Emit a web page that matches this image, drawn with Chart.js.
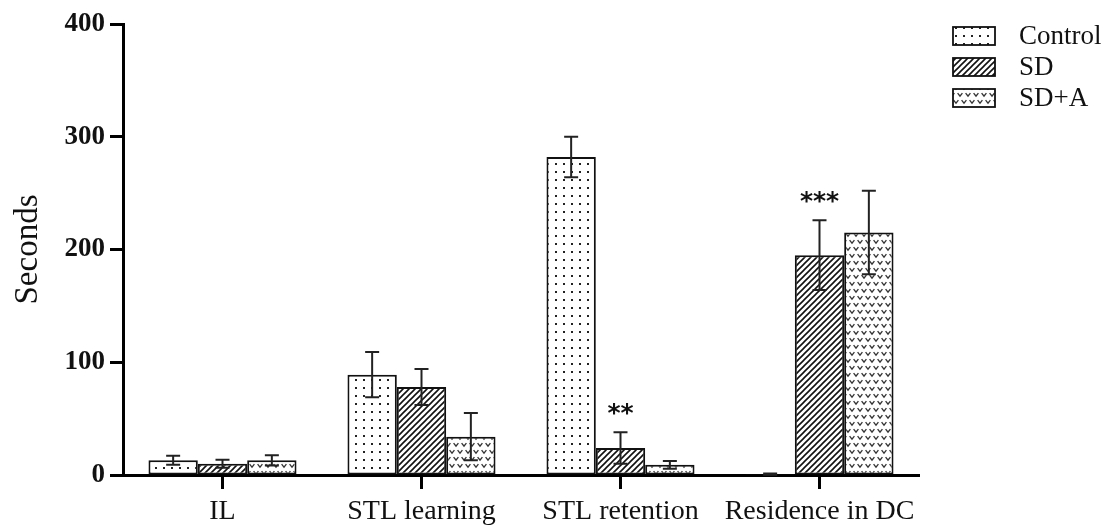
<!DOCTYPE html>
<html>
<head>
<meta charset="utf-8">
<script src="https://cdn.jsdelivr.net/npm/chart.js@4.4.1/dist/chart.umd.min.js"></script>
<style>
  html, body { margin: 0; padding: 0; background: #fff; }
  canvas { display: block; }
</style>
</head>
<body>
<canvas id="chart" width="1106" height="525"></canvas>
<script>
// Behavioural test times per group (seconds, mean and SEM)
const categories = ['IL', 'STL learning', 'STL retention', 'Residence in DC'];
const seriesNames = ['Control', 'SD', 'SD+A'];
const controlMean = [13, 89, 282, 0.8];
const controlErr  = [4, 20, 18, 0.5];
const sdMean      = [10, 78, 24, 195];
const sdErr       = [3.5, 16, 14, 31];
const sdaMean     = [13, 34, 9, 215];
const sdaErr      = [4.5, 21, 3.5, 37];
const sdSignificance = ['', '', '**', '***'];
const yTicks = [0, 100, 200, 300, 400];

const canvas = document.getElementById('chart');
const ctx = canvas.getContext('2d');

function makeTile(w, h, paint) {
  const t = document.createElement('canvas');
  t.width = w; t.height = h;
  const g = t.getContext('2d');
  g.fillStyle = '#fff';
  g.fillRect(0, 0, w, h);
  paint(g);
  return ctx.createPattern(t, 'repeat');
}

// Control: fine dot grid
const dotFill = makeTile(8, 8, g => {
  g.fillStyle = '#222';
  g.fillRect(3, 3, 2, 2);
});

// SD: forward diagonal hatching
const hatchFill = makeTile(6, 6, g => {
  g.strokeStyle = '#111';
  g.lineWidth = 1.6;
  g.beginPath();
  for (const o of [-6, 0, 6]) {
    g.moveTo(o - 1, 7);
    g.lineTo(o + 7, -1);
  }
  g.stroke();
});

// SD+A: staggered little heart-like "v" marks
const vFill = makeTile(8, 14, g => {
  g.strokeStyle = '#333';
  g.lineWidth = 1.3;
  const marks = [[4, 3.5], [0, 10.5], [8, 10.5]];
  g.beginPath();
  for (const [x, y] of marks) {
    g.moveTo(x - 2.4, y - 1.4);
    g.lineTo(x, y + 1.6);
    g.lineTo(x + 2.4, y - 1.4);
  }
  g.stroke();
});

const fills = [dotFill, hatchFill, vFill];
const errors = [controlErr, sdErr, sdaErr];

const errorBars = {
  id: 'errorBars',
  afterDatasetsDraw(chart) {
    const y = chart.scales.y;
    const c = chart.ctx;
    c.save();
    c.strokeStyle = '#222';
    c.lineWidth = 2;
    chart.data.datasets.forEach((ds, di) => {
      const meta = chart.getDatasetMeta(di);
      meta.data.forEach((bar, i) => {
        const v = ds.data[i], e = errors[di][i];
        const top = y.getPixelForValue(v + e);
        const bot = y.getPixelForValue(Math.max(0, v - e));
        c.beginPath();
        c.moveTo(bar.x, top); c.lineTo(bar.x, bot);
        c.moveTo(bar.x - 7, top); c.lineTo(bar.x + 7, top);
        if (v - e > 0) { c.moveTo(bar.x - 7, bot); c.lineTo(bar.x + 7, bot); }
        c.stroke();
      });
    });
    // significance stars above the SD bars
    const sdMeta = chart.getDatasetMeta(1);
    c.fillStyle = '#111';
    c.font = 'bold 25px "DejaVu Sans"';
    c.textAlign = 'center';
    c.textBaseline = 'middle';
    sdSignificance.forEach((s, i) => {
      if (!s) return;
      const bar = sdMeta.data[i];
      const top = y.getPixelForValue(sdMean[i] + sdErr[i]);
      c.fillText(s, bar.x, top - 18);
    });
    c.restore();
  }
};

const sideLegend = {
  id: 'sideLegend',
  afterDraw(chart) {
    const c = chart.ctx;
    c.save();
    const rows = [36, 67, 98];
    seriesNames.forEach((name, i) => {
      const cy = rows[i];
      c.fillStyle = fills[i];
      c.fillRect(953, cy - 9, 42, 18);
      c.strokeStyle = '#111';
      c.lineWidth = 1.8;
      c.strokeRect(953, cy - 9, 42, 18);
      c.fillStyle = '#111';
      c.font = '27px "Liberation Serif"';
      c.textAlign = 'left';
      c.textBaseline = 'middle';
      c.fillText(name, 1019, cy + 1);
    });
    c.restore();
  }
};

const whiteBg = {
  id: 'whiteBg',
  beforeDraw(chart) {
    const c = chart.ctx;
    c.save();
    c.fillStyle = '#fff';
    c.fillRect(0, 0, chart.width, chart.height);
    c.restore();
  }
};

new Chart(ctx, {
  type: 'bar',
  data: {
    labels: categories,
    datasets: [controlMean, sdMean, sdaMean].map((d, i) => ({
      label: seriesNames[i],
      data: d,
      backgroundColor: fills[i],
      borderColor: '#111',
      borderWidth: 2,
      borderSkipped: false,
      barPercentage: 1,
      categoryPercentage: 0.744
    }))
  },
  options: {
    responsive: false,
    animation: false,
    devicePixelRatio: 1,
    layout: { padding: { left: 0, right: 187, top: 24, bottom: 0 } },
    plugins: {
      legend: { display: false },
      tooltip: { enabled: false }
    },
    scales: {
      x: {
        afterFit(s) { s.height = 50; },
        grid: {
          offset: false,
          drawOnChartArea: false,
          drawTicks: true,
          tickLength: 14,
          tickWidth: 3,
          tickColor: '#000'
        },
        border: { display: true, color: '#000', width: 3 },
        ticks: {
          color: '#111',
          padding: 6,
          font: { family: '"Liberation Serif"', size: 28 }
        }
      },
      y: {
        min: 0,
        max: 400,
        afterFit(s) { s.width = 123; },
        afterBuildTicks(s) { s.ticks = yTicks.map(v => ({ value: v })); },
        grid: {
          drawOnChartArea: false,
          drawTicks: true,
          tickLength: 13,
          tickWidth: 3,
          tickColor: '#000'
        },
        border: { display: true, color: '#000', width: 3 },
        ticks: {
          color: '#111',
          padding: 5,
          font: { family: '"Liberation Serif"', size: 27, weight: 'bold' }
        },
        title: {
          display: true,
          text: 'Seconds',
          color: '#111',
          padding: { top: 9, bottom: 0 },
          font: { family: '"Liberation Serif"', size: 33 }
        }
      }
    }
  },
  plugins: [whiteBg, errorBars, sideLegend]
});
</script>
</body>
</html>
